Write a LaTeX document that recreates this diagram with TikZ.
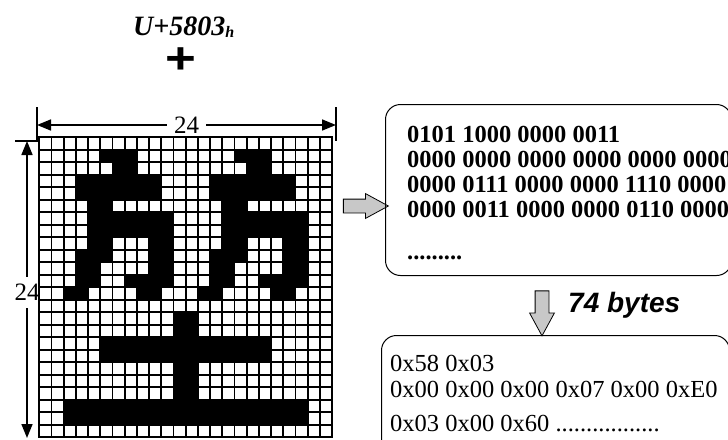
\documentclass[tikz,border=0pt]{standalone}
\usepackage{fontspec}
\usepackage{graphicx}
\setmainfont{Liberation Serif}
\newfontfamily\arialfont{Liberation Sans}
\usetikzlibrary{arrows.meta, shapes.arrows}

\definecolor{arrowgray}{RGB}{200,200,200}

\tikzset{
	dimline/.style={line width=1.6pt, {Triangle[length=14pt,width=11pt]}-{Triangle[length=14pt,width=11pt]}},
	dimtick/.style={line width=1.1pt},
	dimlabel/.style={fill=white, inner xsep=7pt, inner ysep=7pt, font=\fontsize{25}{25}\selectfont},
	blockarrow/.style={single arrow, draw, fill=arrowgray, line width=0.8pt, minimum height=45pt, inner sep=6.5pt,
		single arrow head extend=5.5pt, single arrow tip angle=57},
	membox/.style={draw, rounded corners=15pt, line width=1pt, anchor=north west},
	bittext/.style={anchor=north west, inner sep=0pt, align=left, font=\fontsize{24.5}{25}\selectfont\bfseries},
	bytetext/.style={anchor=north west, inner sep=0pt, align=left, font=\fontsize{24.5}{26}\selectfont}
}

\begin{document}
\begin{tikzpicture}[x=1pt, y=-1pt]
	\useasboundingbox (0,0) rectangle (728,439);
	\clip (0,0) rectangle (728,439);

	\node[anchor=base west, inner sep=0pt, font=\fontsize{28}{28}\selectfont\bfseries\itshape] (code) at (133,35)
		{U+5803\raisebox{-2.5pt}{\fontsize{16}{16}\selectfont h}};
	\node[font=\arialfont\fontsize{44}{44}\selectfont\bfseries] (plus) at (181,61) {\scalebox{1.2}[1]{+}};

	\coordinate (wL) at (37,125);
	\coordinate (wR) at (336,125);
	\coordinate (hT) at (27,141);
	\coordinate (hB) at (27,438);

	\draw[dimtick]
		(37,107) -- (37,141) -- (15,141)
		(336,107) -- (336,141);
	\draw[dimline] (wL) -- node[dimlabel] (wlabel) {24} (wR);
	\draw[dimline] (hT) -- node[dimlabel, pos=0.51] (hlabel) {24} (hB);

	\begin{scope}[shift={(39.3pt,-137.3pt)}, x=12.2pt, y=-12.5pt]
		\foreach \s in {0,11}
			\fill
				(\s+5,1) rectangle (\s+8,2)
				(\s+6,2) rectangle (\s+8,3)
				(\s+3,3) rectangle (\s+10,5)
				(\s+4,5) rectangle (\s+6,6)
				(\s+4,6) rectangle (\s+11,8)
				(\s+4,8) rectangle (\s+6,9)    (\s+9,8) rectangle (\s+11,9)
				(\s+3,9) rectangle (\s+6,10)   (\s+9,9) rectangle (\s+11,10)
				(\s+3,10) rectangle (\s+5,11)  (\s+9,10) rectangle (\s+11,11)
				(\s+3,11) rectangle (\s+5,12)  (\s+7,11) rectangle (\s+11,12)
				(\s+2,12) rectangle (\s+4,13)  (\s+8,12) rectangle (\s+10,13);
		\fill
			(11,14) rectangle (13,16)
			(5,16) rectangle (19,18)
			(11,18) rectangle (13,21)
			(2,21) rectangle (22,23);
		\foreach \i in {0,...,24}
			\draw[line width=1.7pt, line cap=rect] (\i,0) -- (\i,24) (0,\i) -- (24,\i);
	\end{scope}

	\node[blockarrow] (toBits) at (359.5,206) {};

	\node[membox, minimum width=346pt, minimum height=171pt] (bits) at (385,104) {};
	\node[bittext] (bitlines) at ([xshift=22pt,yshift=-22.5pt]bits.north west)
		{0101 1000 0000 0011\\
		0000 0000 0000 0000 0000 0000\\
		0000 0111 0000 0000 1110 0000\\
		0000 0011 0000 0000 0110 0000\\[17pt]
		.........};

	\node[blockarrow, shape border rotate=270] (toBytes) at (542,307) {};
	\node[anchor=base west, inner sep=0pt, font=\arialfont\fontsize{28}{28}\selectfont\bfseries\itshape] (size) at (568,312) {74 bytes};

	\node[membox, minimum width=348pt, minimum height=130pt] (bytes) at (381,335) {};
	\node[bytetext] (bytelines) at ([xshift=9pt,yshift=-20pt]bytes.north west)
		{0x58 0x03\\
		0x00 0x00 0x00 0x07 0x00 0xE0\\[8pt]
		0x03 0x00 0x60 .................};
\end{tikzpicture}
\end{document}
